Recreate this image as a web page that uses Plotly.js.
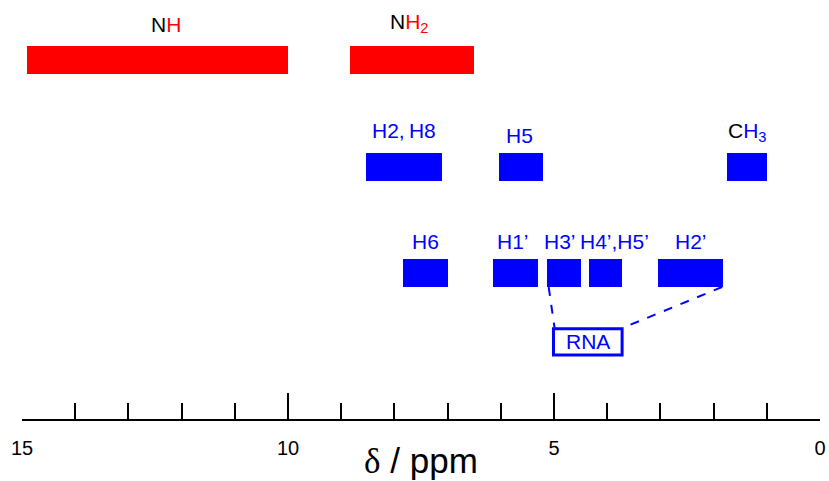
<!DOCTYPE html>
<html>
<head>
<meta charset="utf-8">
<script src="https://cdn.plot.ly/plotly-3.0.1.min.js"></script>
<style>html,body{margin:0;padding:0;background:#fff;}#chart{width:829px;height:481px;}</style>
</head>
<body>
<div id="chart"></div>
<script>
// ---- data (chemical shift ranges, ppm) ----
const groups     = ["NH", "NH2", "H2,H8", "H5", "CH3", "H6", "H1'", "H3'", "H4',H5'", "H2'"];
const shiftStart = [14.9, 8.83, 8.53, 6.03, 1.74, 7.83, 6.14, 5.14, 4.34, 3.04];
const shiftEnd   = [10.0, 6.50, 7.10, 5.20, 1.00, 7.00, 5.30, 4.50, 3.72, 1.82];
const rowIndex   = [3, 3, 2, 2, 2, 1, 1, 1, 1, 1];
const labelText  = [
  "N<span style='color:#ff0000'>H</span>",
  "N<span style='color:#ff0000'>H</span><sub><span style='color:#ff0000'>2</span></sub>",
  "H2,\u2009H8", "H5",
  "<span style='color:#000000'>C</span>H<sub>3</sub>",
  "H6", "H1\u2019", "H3\u2019", "H4\u2019,H5\u2019", "H2\u2019"
];
const axisTicks  = [15, 10, 5, 0];
const boxLabel   = "RNA";

// ---- style ----
const RED = "#ff0000", BLUE = "#0000ff";
const barColor   = [RED, RED, BLUE, BLUE, BLUE, BLUE, BLUE, BLUE, BLUE, BLUE];
const labelColor = ["#000000", "#000000", BLUE, BLUE, BLUE, BLUE, BLUE, BLUE, BLUE, BLUE];
const labelShiftX = [-0.16, 0.05, 0, 0.03, 0, 0, 0.05, 0.07, -0.16, 0];   // ppm nudges
const labelShiftY = [8, 8, 9, 4, 6, 4, 4, 4, 4, 4];                        // px
const BAR_H = 0.263;
const FONT = "Liberation Sans, Arial, Helvetica, sans-serif";

const trace = {
  type: "bar",
  orientation: "h",
  y: rowIndex,
  base: shiftEnd,
  x: shiftStart.map((s, i) => s - shiftEnd[i]),
  width: BAR_H,
  marker: { color: barColor, line: { width: 0 } },
  hoverinfo: "skip",
  showlegend: false
};

const annotations = groups.map((g, i) => ({
  xref: "x", yref: "y",
  x: (shiftStart[i] + shiftEnd[i]) / 2 + labelShiftX[i],
  y: rowIndex[i] + BAR_H / 2,
  yanchor: "bottom", xanchor: "center",
  yshift: labelShiftY[i],
  text: labelText[i],
  showarrow: false,
  font: { family: FONT, size: 21, color: labelColor[i] }
}));

// RNA box (connects H3' and H2' region)
const boxX0 = 5.01, boxX1 = 3.72, boxY0 = 0.23, boxY1 = 0.476;
annotations.push({
  xref: "x", yref: "y", x: (boxX0 + boxX1) / 2, y: (boxY0 + boxY1) / 2,
  text: boxLabel, showarrow: false, yanchor: "middle", xanchor: "center",
  font: { family: FONT, size: 21, color: BLUE }
});

const iH3 = groups.indexOf("H3'"), iH2 = groups.indexOf("H2'");
const shapes = [
  { type: "rect", xref: "x", yref: "y", x0: boxX0, x1: boxX1, y0: boxY0, y1: boxY1,
    line: { color: BLUE, width: 3 }, fillcolor: "rgba(0,0,0,0)" },
  { type: "line", xref: "x", yref: "y",
    x0: shiftStart[iH3] - 0.04, y0: rowIndex[iH3] - BAR_H / 2, x1: boxX0 - 0.02, y1: boxY1 + 0.01,
    line: { color: BLUE, width: 2, dash: "dash" } },
  { type: "line", xref: "x", yref: "y",
    x0: shiftEnd[iH2] + 0.02, y0: rowIndex[iH2] - BAR_H / 2, x1: boxX1 - 0.02, y1: boxY1 + 0.01,
    line: { color: BLUE, width: 2, dash: "dash" } }
];

const layout = {
  width: 829, height: 481,
  margin: { l: 22, r: 9, t: 0, b: 62, pad: 0 },
  paper_bgcolor: "#ffffff", plot_bgcolor: "#ffffff",
  font: { family: FONT, color: "#000000" },
  showlegend: false,
  bargap: 0,
  xaxis: {
    range: [15, 0],
    showgrid: false, zeroline: false,
    showline: true, linecolor: "#000000", linewidth: 2,
    tickmode: "array", tickvals: axisTicks, ticktext: axisTicks.map(String),
    ticks: "inside", ticklen: 26, tickwidth: 2, tickcolor: "#000000",
    minor: { dtick: 1, tick0: 0, ticks: "inside", ticklen: 16, tickwidth: 2, tickcolor: "#000000", showgrid: false },
    tickfont: { family: FONT, size: 20, color: "#000000" },
    ticklabelstandoff: 10,
    title: {
      text: "<span style='font-family:Liberation Serif, Times New Roman, serif'>\u03b4</span> / ppm",
      font: { family: FONT, size: 35, color: "#000000" },
      standoff: 0
    },
    automargin: false,
    fixedrange: true
  },
  yaxis: {
    range: [-0.3709, 3.5634],
    visible: false, showgrid: false, zeroline: false, fixedrange: true
  },
  annotations: annotations,
  shapes: shapes
};

Plotly.newPlot("chart", [trace], layout, { displayModeBar: false, staticPlot: true });
</script>
</body>
</html>
